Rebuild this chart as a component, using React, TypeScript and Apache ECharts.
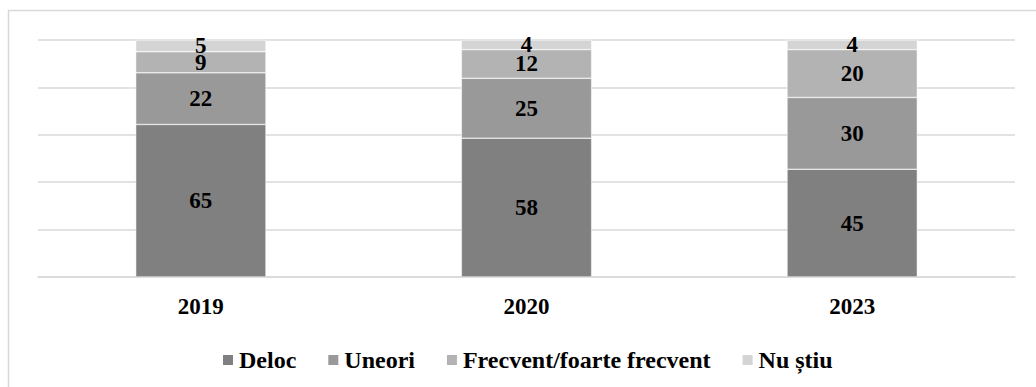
import React, { useEffect, useRef } from "react";
import * as echarts from "echarts";

const categories = ["2019", "2020", "2023"];
const seriesNames = ["Deloc", "Uneori", "Frecvent/foarte frecvent", "Nu știu"];
const deloc = [65, 58, 45];
const uneori = [22, 25, 30];
const frecvent = [9, 12, 20];
const nuStiu = [5, 4, 4];
const colors = ["#808080", "#999999", "#b3b3b3", "#d4d4d4"];

const FONT = "'Liberation Serif', 'Times New Roman', serif";

export default function App() {
  const ref = useRef<HTMLDivElement>(null);
  useEffect(() => {
    if (!ref.current) return;
    const chart = echarts.init(ref.current, undefined, { renderer: "svg" });
    const values = [deloc, uneori, frecvent, nuStiu];
    const totals = categories.map((_, j) => values.reduce((s, arr) => s + arr[j], 0));
    chart.setOption({
      animation: false,
      backgroundColor: "#ffffff",
      graphic: [
        {
          type: "rect",
          shape: { x: 8.5, y: 10.5, width: 1100, height: 400 },
          style: { fill: "none", stroke: "#d9d9d9", lineWidth: 1.5 },
          silent: true,
        },
      ],
      grid: { left: 38, right: 21, top: 40, bottom: 110 },
      legend: {
        top: 343,
        left: 216,
        icon: "rect",
        itemWidth: 12,
        itemHeight: 12,
        itemGap: 30,
        textStyle: { fontFamily: FONT, fontWeight: "bold", fontSize: 24, color: "#000" },
        data: seriesNames,
      },
      xAxis: {
        type: "category",
        data: categories,
        axisLine: { show: true, lineStyle: { color: "#d9d9d9", width: 1.5 } },
        axisTick: { show: false },
        axisLabel: { fontFamily: FONT, fontWeight: "bold", fontSize: 23, color: "#000", margin: 18 },
      },
      yAxis: {
        type: "value",
        min: 0,
        max: 100,
        interval: 20,
        axisLabel: { show: false },
        axisLine: { show: false },
        axisTick: { show: false },
        splitLine: { lineStyle: { color: "#d9d9d9", width: 1.5 } },
      },
      series: seriesNames.map((name, i) => ({
        name,
        type: "bar",
        stack: "total",
        barWidth: "40%",
        data: values[i].map((v, j) => ({ value: (v / totals[j]) * 100 })),
        itemStyle: { color: colors[i], borderColor: "#ffffff", borderWidth: 0.5 },
        label: {
          show: true,
          position: "inside",
          fontFamily: FONT,
          fontWeight: "bold",
          fontSize: 23,
          color: "#000",
          formatter: (p: any) => String(values[i][p.dataIndex]),
        },
      })),
    });
    return () => chart.dispose();
  }, []);
  return (
    <div
      ref={ref}
      style={{ position: "fixed", left: 0, top: 0, width: 1036, height: 387 }}
    />
  );
}
